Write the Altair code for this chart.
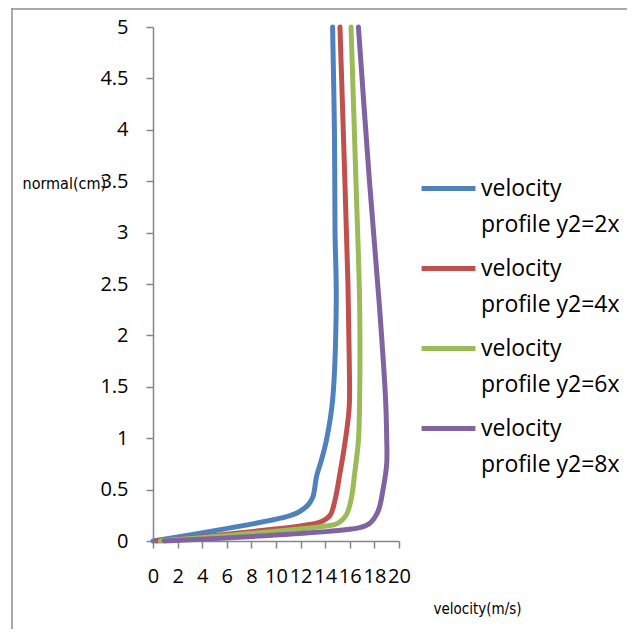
import altair as alt
import pandas as pd

series = ["velocity profile y2=2x", "velocity profile y2=4x",
          "velocity profile y2=6x", "velocity profile y2=8x"]
colors = ["#4F81BD", "#C0504D", "#9BBB59", "#8064A2"]

v_2x = [0.0, 10.8, 11.9, 12.6, 13.0, 13.3, 13.7, 14.1, 14.6, 14.9, 14.8, 14.75, 14.6]
y_2x = [0.0, 0.235, 0.285, 0.35, 0.43, 0.63, 0.79, 0.98, 1.37, 2.34, 3.0, 4.0, 5.0]

v_4x = [0.3, 12.5, 13.7, 14.4, 14.8, 15.2, 15.6, 15.95, 15.95, 15.85, 15.6, 15.2]
y_4x = [0.0, 0.156, 0.19, 0.25, 0.40, 0.66, 0.95, 1.3, 1.8, 2.5, 3.5, 5.0]

v_6x = [0.6, 14.1, 15.0, 15.7, 16.1, 16.4, 16.7, 16.8, 16.8, 16.5, 16.1]
y_6x = [0.0, 0.146, 0.17, 0.25, 0.40, 0.66, 0.98, 1.4, 2.3, 3.5, 5.0]

v_8x = [0.9, 16.8, 17.6, 18.3, 18.7, 19.0, 19.0, 18.9, 18.4, 17.6, 16.7]
y_8x = [0.0, 0.13, 0.17, 0.29, 0.5, 0.75, 1.0, 1.4, 2.3, 3.5, 5.0]

x_ticks = list(range(0, 21, 2))
y_ticks = [0, 0.5, 1, 1.5, 2, 2.5, 3, 3.5, 4, 4.5, 5]

rows = []
for name, vs, ys in zip(series, [v_2x, v_4x, v_6x, v_8x], [y_2x, y_4x, y_6x, y_8x]):
    for i, (v, y) in enumerate(zip(vs, ys)):
        rows.append({"series": name, "velocity": v, "normal": y, "idx": i})
df = pd.DataFrame(rows)

NARROW = "Liberation Sans Narrow, DejaVu Sans Condensed, Roboto, sans-serif"
LABEL = "Open Sans, Noto Sans, sans-serif"

lines = alt.Chart(df).mark_line(
    strokeWidth=5, strokeCap="round", strokeJoin="round", interpolate="catmull-rom"
).encode(
    x=alt.X("velocity:Q",
            scale=alt.Scale(domain=[0, 20], nice=False),
            axis=alt.Axis(values=x_ticks, title="velocity(m/s)", format="~g",
                          labelOverlap=False, labelFlush=False,
                          labelPadding=18, labelFont=LABEL, labelFontSize=20,
                          titleFont=NARROW, titleFontSize=15, titleFontWeight="normal",
                          titleAlign="left", titleBaseline="middle",
                          titleX=280, titleY=67)),
    y=alt.Y("normal:Q",
            scale=alt.Scale(domain=[0, 5], nice=False),
            axis=alt.Axis(values=y_ticks, title="normal(cm)", format="~g",
                          labelPadding=18, labelFont=LABEL, labelFontSize=20,
                          titleFont=NARROW, titleFontSize=16, titleFontWeight="normal",
                          titleAngle=0, titleAlign="left", titleBaseline="middle",
                          titleX=-131, titleY=156)),
    color=alt.Color("series:N",
                    scale=alt.Scale(domain=series, range=colors),
                    legend=alt.Legend(orient="none", legendX=266, legendY=132,
                                      title=None, symbolType="stroke",
                                      symbolSize=2900, symbolStrokeWidth=5,
                                      labelFont=LABEL, labelFontSize=23,
                                      labelExpr="['velocity', substring(datum.label, 9)]",
                                      labelOffset=3, labelLimit=0,
                                      rowPadding=2, padding=0)),
    order=alt.Order("idx:Q"),
)

frame_data = alt.Data(values=[{"k": 0}])
left_border = alt.Chart(frame_data).mark_rule(color="#8c8c8c", strokeWidth=1.5).encode(
    x=alt.value(-141), y=alt.value(-19), y2=alt.value(602)
)
top_border = alt.Chart(frame_data).mark_rule(color="#8c8c8c", strokeWidth=1.5).encode(
    x=alt.value(-141), x2=alt.value(474), y=alt.value(-18)
)

chart = alt.layer(left_border, top_border, lines).properties(
    width=246, height=514,
    autosize=alt.AutoSizeParams(type="none"),
    padding={"left": 145, "top": 19, "right": 228, "bottom": 88},
    background="white",
).configure(
    style={"guide-label": {"lineHeight": 36}}
).configure_view(stroke=None).configure_axis(
    grid=False, domainColor="#868686", tickColor="#868686",
    domainWidth=1.5, tickWidth=1.5, tickSize=7,
    labelColor="black", titleColor="black",
).configure_legend(labelColor="black")

chart.save("out.html", embed_options={"renderer": "svg", "actions": False})
